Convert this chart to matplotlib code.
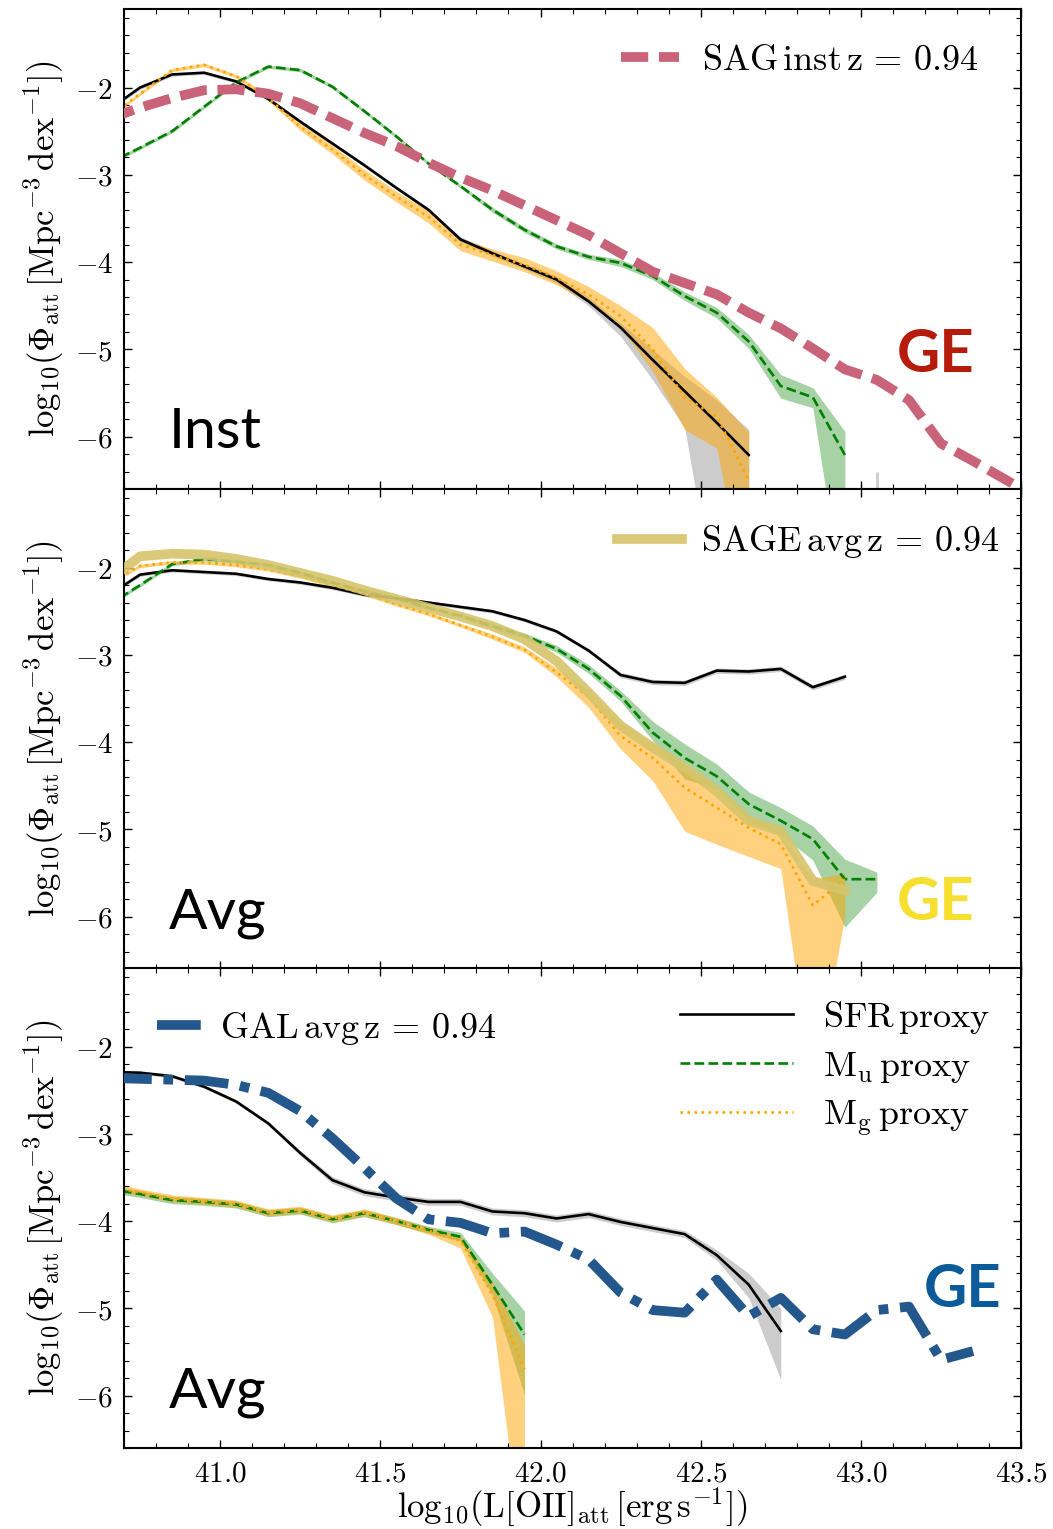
import numpy as np
import matplotlib.pyplot as plt
from matplotlib.ticker import MultipleLocator, FuncFormatter

plt.rcParams['mathtext.fontset'] = 'cm'
plt.rcParams['font.family'] = 'serif'
plt.rcParams['font.serif'] = ['DejaVu Serif']

# centres of the log10 L[OII] bins
lum = [40.65, 40.75, 40.85, 40.95, 41.05, 41.15, 41.25, 41.35, 41.45, 41.55,
       41.65, 41.75, 41.85, 41.95, 42.05, 42.15, 42.25, 42.35, 42.45, 42.55,
       42.65, 42.75, 42.85, 42.95, 43.05, 43.15, 43.25, 43.35, 43.45, 43.55]

# ---- instantaneous SFR, SAG ----
sfr_inst = [-2.26, -2.00, -1.85, -1.83, -1.93, -2.13, -2.39, -2.64, -2.89, -3.15, -3.40,
            -3.74, -3.90, -4.05, -4.20, -4.45, -4.75, -5.12, -5.48, -5.84, -6.21]
sfr_inst_hi = [-2.24, -1.98, -1.83, -1.81, -1.91, -2.11, -2.37, -2.62, -2.87, -3.13, -3.38,
               -3.71, -3.87, -4.02, -4.16, -4.40, -4.70, -5.00, -5.31, -5.58, -5.92]
sfr_inst_lo = [-2.28, -2.02, -1.87, -1.85, -1.95, -2.15, -2.41, -2.66, -2.91, -3.17, -3.42,
               -3.77, -3.93, -4.08, -4.24, -4.50, -4.85, -5.35, -5.90, -8.00, -8.00]
sfr_inst_tail_x = 43.05
sfr_inst_tail_hi = -6.40

mu_inst = [-2.87, -2.69, -2.50, -2.22, -1.94, -1.76, -1.80, -1.99, -2.27, -2.56, -2.87, -3.13,
           -3.40, -3.63, -3.82, -3.94, -4.01, -4.16, -4.39, -4.58, -4.91, -5.42, -5.55, -6.21]
mu_inst_hi = [-2.85, -2.67, -2.48, -2.20, -1.92, -1.74, -1.78, -1.97, -2.25, -2.54, -2.85, -3.11,
              -3.37, -3.60, -3.79, -3.91, -3.97, -4.12, -4.34, -4.52, -4.83, -5.29, -5.44, -5.94]
mu_inst_lo = [-2.89, -2.71, -2.52, -2.24, -1.96, -1.78, -1.82, -2.01, -2.29, -2.58, -2.89, -3.15,
              -3.43, -3.66, -3.85, -3.97, -4.05, -4.20, -4.44, -4.64, -4.99, -5.56, -5.67, -8.00]

mg_inst = [-2.35, -2.07, -1.80, -1.74, -1.87, -2.12, -2.45, -2.71, -3.00, -3.25, -3.48,
           -3.80, -3.92, -4.03, -4.18, -4.37, -4.62, -5.00, -5.55, -5.77, -6.50]
mg_inst_hi = [-2.33, -2.05, -1.78, -1.72, -1.85, -2.09, -2.41, -2.66, -2.94, -3.19, -3.41,
              -3.73, -3.85, -3.95, -4.10, -4.28, -4.50, -4.75, -5.22, -5.55, -5.95]
mg_inst_lo = [-2.37, -2.09, -1.82, -1.76, -1.89, -2.15, -2.49, -2.76, -3.06, -3.31, -3.55,
              -3.87, -3.99, -4.11, -4.26, -4.46, -4.75, -5.25, -5.92, -6.13, -8.00]

sag_inst = [-2.36, -2.23, -2.12, -2.03, -2.02, -2.07, -2.18, -2.35, -2.52, -2.67, -2.86, -3.03,
            -3.18, -3.35, -3.52, -3.69, -3.90, -4.11, -4.24, -4.37, -4.58, -4.76, -4.99, -5.23,
            -5.35, -5.58, -6.08, -6.28, -6.49, -6.70]

# ---- averaged SFR, SAGE ----
sfr_sage = [-2.32, -2.08, -2.03, -2.05, -2.07, -2.13, -2.17, -2.23, -2.31, -2.35, -2.40, -2.45,
            -2.50, -2.60, -2.73, -2.95, -3.23, -3.31, -3.32, -3.18, -3.19, -3.16, -3.37, -3.25]
sfr_sage_hi = [-2.30, -2.06, -2.01, -2.03, -2.05, -2.11, -2.15, -2.21, -2.29, -2.33, -2.38, -2.43,
               -2.48, -2.58, -2.71, -2.93, -3.20, -3.28, -3.29, -3.15, -3.16, -3.13, -3.34, -3.22]
sfr_sage_lo = [-2.34, -2.10, -2.05, -2.07, -2.09, -2.15, -2.19, -2.25, -2.33, -2.37, -2.42, -2.47,
               -2.52, -2.62, -2.75, -2.97, -3.26, -3.34, -3.35, -3.21, -3.22, -3.19, -3.40, -3.28]

mu_sage = [-2.43, -2.20, -1.96, -1.90, -1.93, -1.97, -2.06, -2.17, -2.27, -2.35, -2.46, -2.55, -2.67,
           -2.78, -2.93, -3.16, -3.47, -3.89, -4.18, -4.39, -4.71, -4.90, -5.11, -5.57, -5.57]
mu_sage_hi = [-2.41, -2.18, -1.94, -1.88, -1.91, -1.95, -2.04, -2.15, -2.25, -2.33, -2.44, -2.53, -2.64,
              -2.75, -2.89, -3.11, -3.41, -3.76, -4.02, -4.25, -4.57, -4.75, -4.96, -5.34, -5.49]
mu_sage_lo = [-2.45, -2.22, -1.98, -1.92, -1.95, -1.99, -2.08, -2.19, -2.29, -2.37, -2.48, -2.57, -2.70,
              -2.81, -2.97, -3.21, -3.53, -3.98, -4.42, -4.54, -4.90, -5.06, -5.35, -6.12, -5.72]

mg_sage = [-2.18, -1.98, -1.94, -1.94, -1.97, -2.02, -2.10, -2.20, -2.30, -2.42, -2.53, -2.66,
           -2.79, -2.94, -3.20, -3.48, -3.93, -4.18, -4.52, -4.75, -4.98, -5.17, -5.87, -5.57]
mg_sage_hi = [-2.16, -1.96, -1.92, -1.92, -1.95, -2.00, -2.08, -2.18, -2.28, -2.40, -2.51, -2.64,
              -2.76, -2.91, -3.15, -3.40, -3.77, -4.01, -4.29, -4.54, -4.84, -5.05, -5.57, -5.50]
mg_sage_lo = [-2.20, -2.00, -1.96, -1.96, -1.99, -2.04, -2.12, -2.22, -2.32, -2.44, -2.55, -2.68,
              -2.82, -2.97, -3.25, -3.60, -4.08, -4.44, -5.02, -5.17, -5.31, -5.45, -8.00, -6.00]

sage_avg = [-2.15, -1.87, -1.84, -1.85, -1.90, -1.97, -2.06, -2.15, -2.26, -2.36, -2.46, -2.56,
            -2.67, -2.82, -3.07, -3.43, -3.81, -4.06, -4.29, -4.56, -4.90, -5.02, -5.59, -5.70]

# ---- averaged SFR, GALFORM ----
sfr_gal = [-2.29, -2.30, -2.34, -2.46, -2.63, -2.88, -3.22, -3.53, -3.67, -3.73, -3.78,
           -3.78, -3.89, -3.91, -3.97, -3.92, -4.01, -4.08, -4.15, -4.39, -4.73, -5.26]
sfr_gal_hi = [-2.27, -2.28, -2.32, -2.44, -2.61, -2.86, -3.19, -3.49, -3.63, -3.69, -3.74,
              -3.74, -3.85, -3.87, -3.93, -3.88, -3.97, -4.04, -4.11, -4.33, -4.60, -5.00]
sfr_gal_lo = [-2.31, -2.32, -2.36, -2.48, -2.65, -2.90, -3.25, -3.57, -3.71, -3.77, -3.82,
              -3.82, -3.93, -3.95, -4.01, -3.96, -4.05, -4.12, -4.19, -4.45, -4.88, -5.82]

mu_gal = [-3.63, -3.69, -3.76, -3.78, -3.81, -3.91, -3.88, -3.98, -3.91, -4.00, -4.10, -4.18, -4.73, -5.30]
mu_gal_hi = [-3.59, -3.65, -3.72, -3.74, -3.77, -3.87, -3.84, -3.94, -3.87, -3.96, -4.06, -4.13, -4.60, -5.03]
mu_gal_lo = [-3.67, -3.73, -3.80, -3.82, -3.85, -3.95, -3.92, -4.02, -3.95, -4.04, -4.14, -4.23, -4.85, -5.99]

mg_gal = [-3.60, -3.67, -3.74, -3.77, -3.80, -3.90, -3.87, -3.97, -3.90, -4.00, -4.11, -4.22, -4.84, -5.70]
mg_gal_hi = [-3.56, -3.63, -3.70, -3.73, -3.76, -3.86, -3.83, -3.93, -3.86, -3.96, -4.07, -4.17, -4.70, -5.42]
mg_gal_lo = [-3.64, -3.71, -3.78, -3.81, -3.84, -3.94, -3.91, -4.01, -3.94, -4.04, -4.15, -4.31, -5.10, -8.00]

gal_avg = [-2.36, -2.37, -2.38, -2.39, -2.44, -2.53, -2.74, -3.05, -3.39, -3.74, -3.98, -4.02, -4.14, -4.12,
           -4.27, -4.44, -4.82, -5.02, -5.05, -4.67, -5.09, -4.88, -5.24, -5.30, -5.02, -4.98, -5.59, -5.49]


def banda(ax, y, lo, hi, color, alpha, ls, label=None):
    x = lum[:len(y)]
    ax.fill_between(x, lo, hi, color=color, alpha=alpha, lw=0, zorder=1)
    ax.plot(x, y, color=color, ls=ls, lw=1.9, label=label, zorder=2)


def proxies(ax, sfr, mu, mg):
    banda(ax, sfr[1], sfr[0], sfr[2], 'black', 0.2, '-', r'$\rm SFR\,proxy$')
    banda(ax, mu[1], mu[0], mu[2], 'green', 0.35, '--', r'$\rm M_u\,proxy$')
    banda(ax, mg[1], mg[0], mg[2], 'orange', 0.5, ':', r'$\rm M_g\,proxy$')


def formato(ax):
    ax.set_xlim(40.7, 43.5)
    ax.set_ylim(-6.6, -1.1)
    ax.xaxis.set_major_locator(MultipleLocator(0.5))
    ax.xaxis.set_minor_locator(MultipleLocator(0.1))
    ax.yaxis.set_major_locator(MultipleLocator(1))
    ax.yaxis.set_minor_locator(MultipleLocator(0.2))
    ax.xaxis.set_major_formatter(FuncFormatter(lambda v, p: r'$%.1f$' % v))
    ax.yaxis.set_major_formatter(FuncFormatter(lambda v, p: r'$%d$' % round(v)))
    ax.tick_params(which='both', direction='in', top=True, right=True, labelsize=21, pad=8)
    ax.tick_params(which='major', length=6, width=1.0)
    ax.tick_params(which='minor', length=3.5, width=0.8)
    for s in ax.spines.values():
        s.set_linewidth(1.5)
    ax.set_ylabel(r'$\mathrm{log}_{10}(\Phi_{\rm att}\,[\rm Mpc^{-3}\,dex^{-1}])$', fontsize=25, labelpad=6)


fig = plt.figure(figsize=(10.53, 15.29), dpi=100)
ax1 = fig.add_axes([0.1178, 0.6802, 0.8519, 0.3139])
ax2 = fig.add_axes([0.1178, 0.3662, 0.8519, 0.3139])
ax3 = fig.add_axes([0.1178, 0.0530, 0.8519, 0.3139])

# panel 1: instantaneous
proxies(ax1, (sfr_inst_lo, sfr_inst, sfr_inst_hi), (mu_inst_lo, mu_inst, mu_inst_hi),
        (mg_inst_lo, mg_inst, mg_inst_hi))
ax1.vlines(sfr_inst_tail_x, -8, sfr_inst_tail_hi, color='black', alpha=0.2, lw=2)
l1, = ax1.plot(lum[:len(sag_inst)], sag_inst, color='#C8637A', lw=7, ls=(0, (2.8, 1.1)),
               zorder=3, label=r'$\rm SAG\,inst\,z\,=\,0.94$')
ax1.legend(handles=[l1], loc='center left', bbox_to_anchor=(0.554, 0.894), frameon=False,
           fontsize=26, handlelength=1.6, handletextpad=0.63, borderpad=0, borderaxespad=0)

# panel 2: averaged, SAGE
proxies(ax2, (sfr_sage_lo, sfr_sage, sfr_sage_hi), (mu_sage_lo, mu_sage, mu_sage_hi),
        (mg_sage_lo, mg_sage, mg_sage_hi))
l2, = ax2.plot(lum[:len(sage_avg)], sage_avg, color='#D6C46A', alpha=0.9, lw=7, zorder=3,
               label=r'$\rm SAGE\,avg\,z\,=\,0.94$')
ax2.legend(handles=[l2], loc='center left', bbox_to_anchor=(0.549, 0.890), frameon=False,
           fontsize=26, handlelength=1.8, handletextpad=0.55, borderpad=0, borderaxespad=0)

# panel 3: averaged, GALFORM
proxies(ax3, (sfr_gal_lo, sfr_gal, sfr_gal_hi), (mu_gal_lo, mu_gal, mu_gal_hi),
        (mg_gal_lo, mg_gal, mg_gal_hi))
l3, = ax3.plot(lum[:len(gal_avg)], gal_avg, color='#24578C', lw=7, ls=(0, (4.5, 1.2, 1, 1.2)),
               zorder=3, label=r'$\rm GAL\,avg\,z\,=\,0.94$')
leg_a = ax3.legend(handles=[l3], loc='center left', bbox_to_anchor=(0.0364, 0.875), frameon=False,
                   fontsize=26, handlelength=1.3, handletextpad=0.46, borderpad=0, borderaxespad=0)
ax3.add_artist(leg_a)
h, lab = ax3.get_legend_handles_labels()
ax3.legend(h[:3], lab[:3], loc='center left', bbox_to_anchor=(0.620, 0.791), frameon=False,
           fontsize=26, handlelength=3.13, handletextpad=0.83, labelspacing=0.36,
           borderpad=0, borderaxespad=0)

for ax in (ax1, ax2, ax3):
    formato(ax)
ax1.tick_params(labelbottom=False)
ax2.tick_params(labelbottom=False)
ax3.set_xlabel(r'$\mathrm{log}_{10}(\rm L[OII]_{att}\,[erg\,s^{-1}])$', fontsize=25, labelpad=-1)

# panel tags
for ax, tag in ((ax1, 'Inst'), (ax2, 'Avg'), (ax3, 'Avg')):
    ax.text(0.05, 0.085, tag, transform=ax.transAxes, family='Lato', fontsize=41, va='baseline')
for ax, (gx, gy), gc in ((ax1, (0.861, 0.244), '#B51C0C'), (ax2, (0.861, 0.102), '#F7DF2F'),
                         (ax3, (0.891, 0.294), '#0B5A9A')):
    ax.text(gx, gy, 'GE', transform=ax.transAxes, family='Lato', fontweight='bold',
            fontsize=43, color=gc, va='baseline')

fig.savefig('out.png', dpi=100)
